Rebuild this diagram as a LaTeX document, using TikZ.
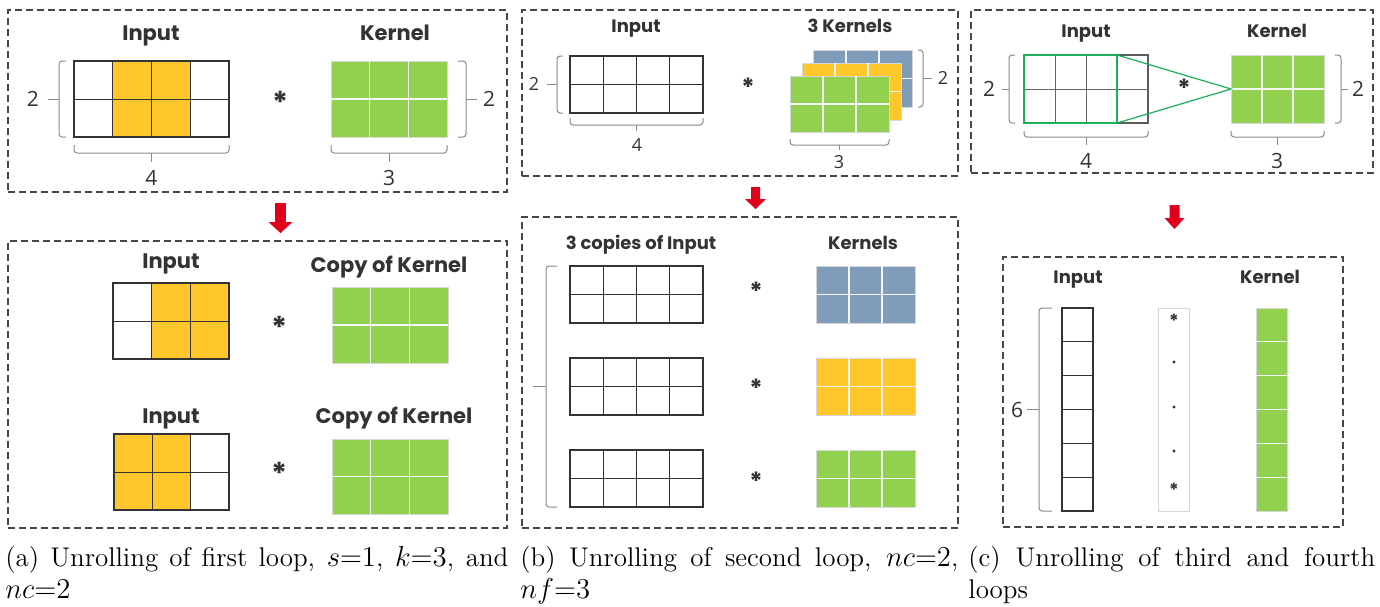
\documentclass[tikz,border=0pt]{standalone}
\usepackage{fontspec}
\setsansfont{Poppins}
\newfontfamily\numfont{Open Sans}
\definecolor{orng}{HTML}{FFC72C}
\definecolor{grn}{HTML}{92D050}
\definecolor{blu}{HTML}{7F9DBA}
\definecolor{dk}{HTML}{333333}
\definecolor{hl}{HTML}{1DAE5C}
\definecolor{redar}{HTML}{E2001A}
\definecolor{brc}{HTML}{8A8A8A}
\definecolor{kb}{HTML}{D6D6D6}
\newcommand\gridnode[6]{\node[inner sep=0pt, outer sep=0pt, minimum width={(#4-#2)*0.5pt}, minimum height={(#5-#3)*0.5pt}, #6] (#1) at ({(#2+#4)/2},{(#3+#5)/2}) {};}
\newcommand\innerlines[7]{%
 \pgfmathtruncatemacro\gncm{#5-1}\pgfmathtruncatemacro\gnrm{#6-1}%
 \ifnum\gncm>0 \foreach \k in {1,...,\gncm}{\draw[#7] ({#1+(#3-#1)*\k/#5},#2) -- ({#1+(#3-#1)*\k/#5},#4);}\fi
 \ifnum\gnrm>0 \foreach \k in {1,...,\gnrm}{\draw[#7] (#1,{#2+(#4-#2)*\k/#6}) -- (#3,{#2+(#4-#2)*\k/#6});}\fi}
% vertical brace: xline, xend, ytop, ybot, xtick
\newcommand\vbrace[5]{\draw[brc,line width=0.5pt,rounded corners=1.5pt] (#2,#3) -- (#1,#3) -- (#1,#4) -- (#2,#4); \draw[brc,line width=0.5pt] (#1,{(#3+#4)/2}) -- (#5,{(#3+#4)/2});}
% horizontal brace: yline, yend, xleft, xright, ytick
\newcommand\hbrace[5]{\draw[brc,line width=0.5pt,rounded corners=1.5pt] (#3,#2) -- (#3,#1) -- (#4,#1) -- (#4,#2); \draw[brc,line width=0.5pt] ({(#3+#4)/2},#1) -- ({(#3+#4)/2},#5);}
% red arrow: x, ytop, ybot, shaft half, head half, head length
\newcommand\redarrow[6]{\fill[redar] ({#1-#4},#2) -- ({#1+#4},#2) -- ({#1+#4},{#3-#6}) -- ({#1+#5},{#3-#6}) -- (#1,#3) -- ({#1-#5},{#3-#6}) -- ({#1-#4},{#3-#6}) -- cycle;}
\begin{document}
\begin{tikzpicture}[x=0.5pt,y=-0.5pt,
 dbox/.style={draw=dk!90, dash pattern=on 3.5pt off 2pt, line width=0.6pt},
 inb/.style={draw=dk, line width=0.55pt},
 inl/.style={dk, line width=0.5pt},
 kern/.style={fill=#1, draw=kb, line width=0.5pt},
 wl/.style={white!92!gray, line width=0.6pt},
 labA/.style={font=\sffamily\bfseries\fontsize{10.5}{12}\selectfont, text=dk, anchor=base, inner sep=0pt},
 labB/.style={font=\sffamily\bfseries\fontsize{9}{11}\selectfont, text=dk, anchor=base, inner sep=0pt},
 numA/.style={font=\numfont\fontsize{10.5}{12}\selectfont, text=dk, inner sep=0pt},
 numB/.style={font=\numfont\fontsize{9}{10}\selectfont, text=dk, inner sep=0pt},
 astA/.style={font=\sffamily\bfseries\fontsize{15}{15}\selectfont, text=dk, anchor=base, inner sep=0pt},
 astB/.style={font=\sffamily\bfseries\fontsize{12.5}{12.5}\selectfont, text=dk, anchor=base, inner sep=0pt},
 astC/.style={font=\sffamily\bfseries\fontsize{9}{9}\selectfont, text=dk, anchor=base, inner sep=0pt},
 capt/.style={font=\fontsize{13.5}{16}\selectfont, align=justify, inner sep=0pt, anchor=north west}]
\useasboundingbox (0,0) rectangle (1380,606);
\fill[white] (0,0) rectangle (1380,606);

%% ---------- Panel (a) top ----------
\gridnode{boxA1}{8}{10}{507}{192}{dbox}
\node[labA] (tA1) at (151,40) {Input};
\node[labA] (tA2) at (395,40) {Kernel};
\fill[orng] (112.75,61) rectangle (190.25,137);
\gridnode{inA}{74}{61}{229}{137}{inb}
\innerlines{74}{61}{229}{137}{4}{2}{inl}
\gridnode{kA}{331}{61}{447}{137}{kern=grn}
\innerlines{331}{61}{447}{137}{3}{2}{wl}
\node[astA] (sA) at (281,113) {*};
\vbrace{59}{66}{61}{137}{48}
\node[numA] (nA1) at (33,99) {2};
\vbrace{466}{458}{61}{137}{477}
\node[numA] (nA2) at (489,99) {2};
\hbrace{153}{145}{74}{229}{162}
\node[numA] (nA3) at (151.5,178) {4};
\hbrace{153}{145}{331}{447}{162}
\node[numA] (nA4) at (389,178) {3};

\redarrow{280.5}{203}{233}{5.3}{12}{11}

%% ---------- Panel (a) bottom ----------
\gridnode{boxA2}{8}{241}{507}{528}{dbox}
\node[labA] (tA3) at (171,268) {Input};
\node[labA] (tA4) at (389,272) {Copy of Kernel};
\fill[orng] (151.67,283) rectangle (229,359);
\gridnode{inA1}{113}{283}{229}{359}{inb}
\innerlines{113}{283}{229}{359}{3}{2}{inl}
\node[astA] (sA1) at (280,338) {*};
\gridnode{kA1}{332}{287}{448}{363}{kern=grn}
\innerlines{332}{287}{448}{363}{3}{2}{wl}
\node[labA] (tA5) at (171,423) {Input};
\node[labA] (tA6) at (394,423) {Copy of Kernel};
\fill[orng] (114,434) rectangle (190.67,510);
\gridnode{inA2}{114}{434}{229}{510}{inb}
\innerlines{114}{434}{229}{510}{3}{2}{inl}
\node[astA] (sA2) at (280,484) {*};
\gridnode{kA2}{332}{439}{448}{514}{kern=grn}
\innerlines{332}{439}{448}{514}{3}{2}{wl}

%% ---------- Panel (b) top ----------
\gridnode{boxB1}{522}{10}{958}{176}{dbox}
\node[labB] (tB1) at (636,32) {Input};
\node[labB] (tB2) at (850,32) {3 Kernels};
\gridnode{inB}{570}{56}{703}{113}{inb}
\innerlines{570}{56}{703}{113}{4}{2}{inl}
\vbrace{557}{563}{56}{113}{547}
\node[numB] (nB1) at (534,84) {2};
\hbrace{125}{118}{570}{703}{131}
\node[numB] (nB2) at (637,145) {4};
\node[astB] (sB) at (748,96) {*};
\gridnode{kB1}{813}{50}{912}{107}{kern=blu}
\innerlines{813}{50}{912}{107}{3}{2}{wl}
\gridnode{kB2}{802}{63}{901}{120}{kern=orng}
\innerlines{802}{63}{901}{120}{3}{2}{wl}
\gridnode{kB3}{790}{76}{889}{132}{kern=grn}
\innerlines{790}{76}{889}{132}{3}{2}{wl}
\vbrace{923}{918}{50}{107}{932}
\node[numB] (nB3) at (943,78) {2};
\hbrace{145}{139}{790}{889}{150}
\node[numB] (nB4) at (839,162) {3};

\redarrow{755.5}{187}{209}{4.5}{10.5}{10}

%% ---------- Panel (b) bottom ----------
\gridnode{boxB2}{522}{217}{958}{528}{dbox}
\node[labB] (tB3) at (641,249) {3 copies of Input};
\node[labB] (tB4) at (863,249) {Kernels};
\gridnode{inB1}{570}{266}{703}{323}{inb}
\innerlines{570}{266}{703}{323}{4}{2}{inl}
\gridnode{inB2}{570}{358}{703}{415}{inb}
\innerlines{570}{358}{703}{415}{4}{2}{inl}
\gridnode{inB3}{570}{450}{703}{507}{inb}
\innerlines{570}{450}{703}{507}{4}{2}{inl}
\gridnode{kB4}{816}{266}{915}{323}{kern=blu}
\innerlines{816}{266}{915}{323}{3}{2}{wl}
\gridnode{kB5}{816}{358}{915}{415}{kern=orng}
\innerlines{816}{358}{915}{415}{3}{2}{wl}
\gridnode{kB6}{816}{450}{915}{507}{kern=grn}
\innerlines{816}{450}{915}{507}{3}{2}{wl}
\node[astB] (sB1) at (756,300) {*};
\node[astB] (sB2) at (756,397) {*};
\node[astB] (sB3) at (756,490) {*};
\vbrace{546}{557}{266}{507}{533}

%% ---------- Panel (c) top ----------
\gridnode{boxC1}{971}{10}{1373}{173}{dbox}
\node[labB] (tC1) at (1086,37) {Input};
\node[labB] (tC2) at (1277,37) {Kernel};
\gridnode{inC}{1024}{55}{1148}{123}{draw=dk!80, line width=0.55pt}
\innerlines{1024}{55}{1148}{123}{4}{2}{dk!75, line width=0.5pt}
\gridnode{hlC}{1024}{55}{1117}{123}{draw=hl, line width=1.1pt}
\gridnode{kC}{1231}{55}{1324}{123}{kern=grn}
\innerlines{1231}{55}{1324}{123}{3}{2}{wl}
\draw[hl, line width=0.6pt] (hlC.north east) -- (kC.west) -- (hlC.south east);
\node[astB] (sC) at (1184,97) {*};
\vbrace{1009}{1015}{55}{123}{1002}
\node[numA] (nC1) at (989,89) {2};
\vbrace{1341}{1335}{55}{123}{1348}
\node[numA] (nC2) at (1358,89) {2};
\hbrace{137}{131}{1024}{1148}{145}
\node[numA] (nC3) at (1086,161) {4};
\hbrace{137}{131}{1231}{1324}{145}
\node[numA] (nC4) at (1277,161) {3};

\redarrow{1174.5}{205}{229}{5}{10}{11}

%% ---------- Panel (c) bottom ----------
\gridnode{boxC2}{1003}{257}{1343}{527}{dbox}
\node[labB] (tC3) at (1078,283) {Input};
\node[labB] (tC4) at (1270,283) {Kernel};
\gridnode{inC1}{1062}{308}{1093}{511}{inb}
\innerlines{1062}{308}{1093}{511}{1}{6}{inl}
\vbrace{1039}{1052}{308}{511}{1027}
\node[numA] (nC5) at (1017,410) {6};
\gridnode{midC}{1158}{308}{1189}{511}{draw=kb, line width=0.5pt}
\node[astC] (sC1) at (1174,327) {*};
\fill[dk] (1174,362) circle[radius=0.8pt];
\fill[dk] (1174,407) circle[radius=0.8pt];
\fill[dk] (1174,451) circle[radius=0.8pt];
\node[astC] (sC2) at (1174,496) {*};
\gridnode{kC1}{1256}{308}{1287}{511}{kern=grn}
\innerlines{1256}{308}{1287}{511}{1}{6}{wl}

%% ---------- Captions ----------
\node[capt, text width=251.5pt] (capA) at (5,546) {(a) Unrolling of first loop, $s{=}1$, $k{=}3$, and\linebreak $nc{=}2$};
\node[capt, text width=219pt] (capB) at (520,546) {(b) Unrolling of second loop, $nc{=}2$,\linebreak $nf{=}3$};
\node[capt, text width=203.5pt] (capC) at (968,546) {(c) Unrolling of third and fourth\linebreak loops};
\end{tikzpicture}
\end{document}
